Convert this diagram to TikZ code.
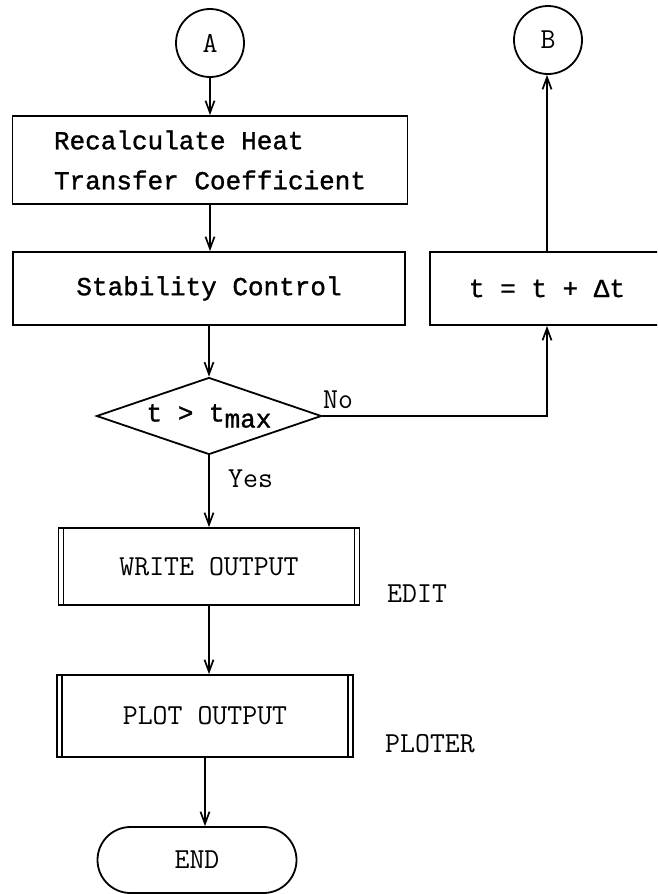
\documentclass[tikz,border=0pt]{standalone}
\usepackage{fontspec}
\usepackage{tikz}
\usetikzlibrary{shapes.geometric,arrows.meta}
\newfontfamily\typefont[FakeBold=1.2]{Liberation Mono}
\newcommand{\boxfont}{\typefont\fontsize{26}{40}\selectfont}
\newcommand{\lblfont}{\ttfamily\fontsize{29}{34}\selectfont}

\begin{document}
\begin{tikzpicture}[x=1pt, y=-1pt,
    stepbox/.style={draw, line width=1.8pt, align=left, font=\boxfont, inner sep=0pt},
    subproc/.style={stepbox, font=\lblfont, path picture={
        \draw[line width=1.4pt] ([xshift=5pt]path picture bounding box.north west) -- ([xshift=5pt]path picture bounding box.south west);
        \draw[line width=1.4pt] ([xshift=-5pt]path picture bounding box.north east) -- ([xshift=-5pt]path picture bounding box.south east);}},
    connector/.style={draw, circle, line width=1.8pt, minimum size=68pt, inner sep=0pt, font=\lblfont},
    decision/.style={draw, diamond, aspect=2.92, line width=1.8pt, minimum width=225pt,
                     minimum height=77pt, inner sep=0pt, font=\boxfont},
    terminal/.style={draw, rounded corners=33pt, line width=1.8pt, minimum width=199pt,
                     minimum height=66pt, font=\lblfont},
    arrow/.style={-{Straight Barb[length=12pt,width=9pt]}, line width=1.7pt},
    sidelbl/.style={font=\lblfont, anchor=base west, inner sep=0pt}
  ]
    \useasboundingbox (0,0) rectangle (657,894);
    \clip (0,0) rectangle (657,894);

    \node[connector] (A) at (210,43) {A};
    \node[connector] (B) at (548,40) {B};
    \node[stepbox, minimum width=395pt, minimum height=88pt] (recalc) at (210,160) {Recalculate Heat\\Transfer Coefficient};
    \node[stepbox, minimum width=392pt, minimum height=73pt] (stab) at (209,288.5) {Stability Control};
    \node[stepbox, minimum width=234pt, minimum height=73pt] (tinc) at (547,288.5) {t = t + Δt};
    \node[decision] (test) at (209,416) {t > t\raisebox{-6pt}{max}};
    \node[subproc, minimum width=301pt, minimum height=77pt] (write) at (209,566.5) {WRITE OUTPUT};
    \node[subproc, minimum width=296pt, minimum height=82pt] (plot) at (205,716) {PLOT OUTPUT};
    \node[terminal] (end) at (197,860) {END};

    \node[sidelbl] (no) at (323,408) {No};
    \node[sidelbl] (yes) at (228,487) {Yes};
    \node[sidelbl] (edit) at (387,602) {EDIT};
    \node[sidelbl] (ploter) at (385,752) {PLOTER};

    \draw[arrow] (A.south) -- (A.south |- recalc.north);
    \draw[arrow] (recalc.south) -- (recalc.south |- stab.north);
    \draw[arrow] (stab.south) -- (test.north);
    \draw[arrow] (test.south) -- (test.south |- write.north);
    \draw[arrow] (write.south) -- (write.south |- plot.north);
    \draw[arrow] (plot.south) -- (plot.south |- end.north);
    \draw[arrow] (test.east) -| (tinc.south);
    \draw[arrow] (tinc.north) -- (tinc.north |- B.south);
  \end{tikzpicture}
\end{document}
